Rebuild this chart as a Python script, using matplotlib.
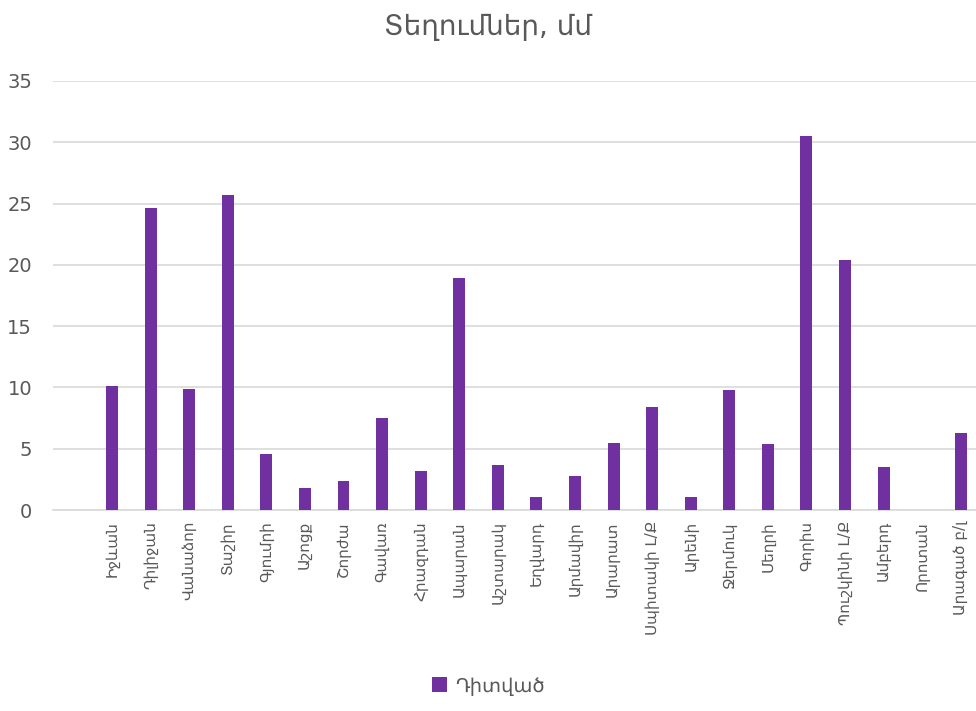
import matplotlib

matplotlib.use("Agg")

import matplotlib.pyplot as plt

stations = [
    "Իջևան", "Դիլիջան", "Վանաձոր", "Տաշիր", "Գյումրի", "Աշոցք", "Շորժա",
    "Գավառ", "Հրազդան", "Ապարան", "Աշտարակ", "Եղվարդ", "Արմավիր", "Արարատ",
    "Սպիտակի Լ/Ք", "Արենի", "Ջերմուկ", "Մեղրի", "Գորիս", "Պուշկինի Լ/Ք",
    "Ամբերդ", "Որոտան", "Արագած բ/լ",
]
observed = [
    10.1, 24.6, 9.9, 25.7, 4.6, 1.8, 2.4,
    7.5, 3.2, 18.9, 3.7, 1.1, 2.8, 5.5,
    8.4, 1.1, 9.8, 5.4, 30.5, 20.4,
    3.5, 0.0, 6.3,
]
y_ticks = [0, 5, 10, 15, 20, 25, 30, 35]

text_color = "#595959"
bar_color = "#7030A0"
grid_color = "#D9D9D9"

plt.rcParams["font.family"] = ["DejaVu Sans"]

fig = plt.figure(figsize=(9.76, 7.11), dpi=100)
ax = fig.add_axes([53 / 976, (711 - 510) / 711, 927 / 976, 429 / 711])

x = list(range(len(stations)))
ax.bar(x, observed, width=0.31, color=bar_color, label="Դիտված", zorder=3)

ax.set_xlim(-1.53, len(stations) - 0.5)
ax.set_ylim(0, 35)
ax.set_yticks(y_ticks)
ax.set_xticks(x)
ax.set_xticklabels(stations, rotation=90, fontsize=11, color=text_color)
ax.tick_params(axis="y", labelsize=14, colors=text_color, length=0, pad=15)
ax.tick_params(axis="x", length=0, pad=8)
ax.grid(axis="y", color=grid_color, linewidth=1.2, zorder=0)
for side in ["top", "right", "left"]:
    ax.spines[side].set_visible(False)
ax.spines["bottom"].set_color(grid_color)
ax.spines["bottom"].set_linewidth(1.2)

fig.text(0.5, 1 - 27 / 711, "Տեղումներ, մմ", ha="center", va="center",
         fontsize=20, color=text_color)
fig.legend(loc="center", bbox_to_anchor=(0.5, 1 - 686 / 711), frameon=False,
           fontsize=14, labelcolor=text_color, handlelength=0.8,
           handleheight=0.8, handletextpad=0.4)

fig.savefig("out.png", dpi=100)
plt.close(fig)
